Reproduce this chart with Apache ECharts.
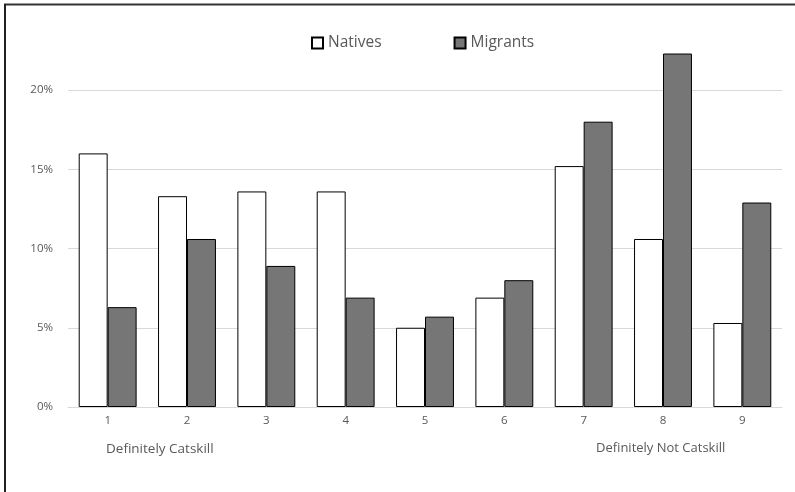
<!DOCTYPE html>
<html>
<head>
<meta charset="utf-8">
<script src="https://cdn.jsdelivr.net/npm/echarts@6/dist/echarts.min.js"></script>
<style>
html,body{margin:0;padding:0;background:#fff;}
#chart{width:795px;height:492px;}
</style>
</head>
<body>
<div id="chart"></div>
<script>
var categories = ['1','2','3','4','5','6','7','8','9'];
var natives = [0.160, 0.133, 0.136, 0.136, 0.050, 0.069, 0.152, 0.106, 0.053];
var migrants = [0.063, 0.106, 0.089, 0.069, 0.057, 0.080, 0.180, 0.223, 0.129];
var yTicks = [0, 0.05, 0.10, 0.15, 0.20];
var leftNote = 'Definitely Catskill';
var rightNote = 'Definitely Not Catskill';

var FONT = '"Open Sans", Lato, sans-serif';
var chart = echarts.init(document.getElementById('chart'));
chart.setOption({
  animation: false,
  textStyle: {fontFamily: FONT},
  legend: {
    top: 30, left: 306,
    itemWidth: 11, itemHeight: 11, itemGap: 72,
    icon: 'rect',
    textStyle: {color: '#595959', fontSize: 15.5, fontFamily: FONT},
    data: ['Natives', 'Migrants']
  },
  grid: {left: 68, right: 13, top: 90, bottom: 85},
  xAxis: {
    type: 'category',
    data: categories,
    axisLine: {lineStyle: {color: '#d9d9d9', width: 1}},
    axisTick: {show: false},
    axisLabel: {color: '#595959', fontSize: 11.5, margin: 8, fontFamily: FONT}
  },
  yAxis: {
    type: 'value',
    min: yTicks[0], max: yTicks[yTicks.length - 1], interval: 0.05,
    axisLine: {show: false},
    axisTick: {show: false},
    splitLine: {lineStyle: {color: '#d9d9d9', width: 1}},
    axisLabel: {
      color: '#595959', fontSize: 11.5, margin: 15, fontFamily: FONT,
      formatter: function (v) { return Math.round(v * 100) + '%'; }
    }
  },
  series: [
    {
      name: 'Natives', type: 'bar', data: natives, clip: false,
      barGap: '0%', barCategoryGap: '27%',
      itemStyle: {color: '#ffffff', borderColor: '#000000', borderWidth: 1}
    },
    {
      name: 'Migrants', type: 'bar', data: migrants, clip: false,
      itemStyle: {color: '#767676', borderColor: '#000000', borderWidth: 1}
    }
  ],
  graphic: [
    {type: 'line', shape: {x1: 4, y1: 4.5, x2: 795, y2: 4.5}, style: {stroke: '#333333', lineWidth: 2}},
    {type: 'line', shape: {x1: 5, y1: 4, x2: 5, y2: 492}, style: {stroke: '#222222', lineWidth: 2}},
    {type: 'text', left: 106, top: 442, style: {text: leftNote, fill: '#595959', font: '13.5px ' + FONT}},
    {type: 'text', left: 596, top: 442, style: {text: rightNote, fill: '#595959', font: '13px ' + FONT}}
  ]
});
</script>
</body>
</html>
